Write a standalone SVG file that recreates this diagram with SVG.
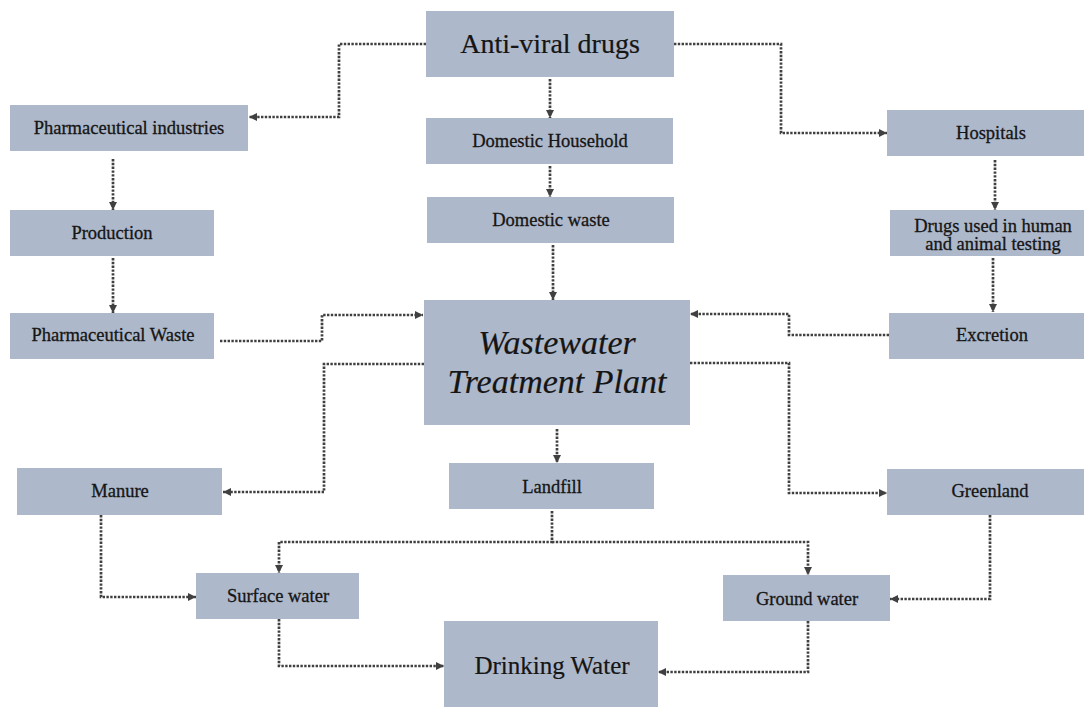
<svg xmlns="http://www.w3.org/2000/svg" width="1085" height="709" viewBox="0 0 1085 709">
<defs>
<style>
.box{fill:#adb8cb;}
.t{font-family:"Liberation Serif","Times New Roman",serif;font-size:18.5px;fill:#151515;stroke:#151515;stroke-width:0.3;text-anchor:middle;}
.big{font-size:28px;stroke-width:0.2;}
.mid{font-size:25px;stroke-width:0.2;}
.it{font-style:italic;font-size:34px;stroke-width:0.2;}
.c{fill:none;stroke:#404040;stroke-width:2.7;stroke-dasharray:2.4 1.4;marker-end:url(#ah);}
</style>
<marker id="ah" markerUnits="userSpaceOnUse" markerWidth="9" markerHeight="9" refX="8" refY="4" orient="auto">
<path d="M0,0 L8,4 L0,8 z" fill="#404040"/>
</marker>
</defs>
<rect width="1085" height="709" fill="#ffffff"/>
<g id="connectors">
<path class="c" d="M426,44 H339 V117 H249"/>
<path class="c" d="M674,44 H781 V133 H887"/>
<path class="c" d="M550,79 V118"/>
<path class="c" d="M550,166 V197"/>
<path class="c" d="M553,245 V300"/>
<path class="c" d="M113,159 V210"/>
<path class="c" d="M113,258 V313"/>
<path class="c" d="M220,341 H322 V315 H423"/>
<path class="c" d="M995,160 V210"/>
<path class="c" d="M993,258 V312"/>
<path class="c" d="M889,335 H789 V314 H690"/>
<path class="c" d="M424,364 H324 V492 H223"/>
<path class="c" d="M690,363 H789 V493 H887"/>
<path class="c" d="M557,429 V463"/>
<path class="c" d="M552,511 V542 H279 V573"/>
<path class="c" d="M552,542 H808 V575"/>
<path class="c" d="M101,515 V597 H196"/>
<path class="c" d="M279,619 V666 H444"/>
<path class="c" d="M990,515 V599 H890"/>
<path class="c" d="M808,621 V672 H658"/>
</g>
<g id="antiviral"><rect class="box" x="426" y="11" width="248" height="66"/><text class="t big" x="550" y="53">Anti-viral drugs</text></g>
<g id="pharma-industries"><rect class="box" x="10" y="105" width="238" height="46"/><text class="t" x="129" y="134">Pharmaceutical industries</text></g>
<g id="domestic-household"><rect class="box" x="426" y="118" width="247" height="46"/><text class="t" x="550" y="147">Domestic Household</text></g>
<g id="hospitals"><rect class="box" x="887" y="110" width="197" height="46"/><text class="t" x="991" y="139">Hospitals</text></g>
<g id="production"><rect class="box" x="10" y="210" width="204" height="46"/><text class="t" x="112" y="239">Production</text></g>
<g id="domestic-waste"><rect class="box" x="427" y="197" width="247" height="46"/><text class="t" x="551" y="226">Domestic waste</text></g>
<g id="drugs-used"><rect class="box" x="890" y="210" width="194" height="46"/><text class="t" x="993" y="232">Drugs used in human</text><text class="t" x="993" y="250">and animal testing</text></g>
<g id="pharma-waste"><rect class="box" x="10" y="313" width="204" height="46"/><text class="t" x="113" y="341">Pharmaceutical Waste</text></g>
<g id="wwtp"><rect class="box" x="424" y="300" width="266" height="125"/><text class="t it" x="557" y="354">Wastewater</text><text class="t it" x="557" y="393">Treatment Plant</text></g>
<g id="excretion"><rect class="box" x="889" y="313" width="195" height="46"/><text class="t" x="992" y="341">Excretion</text></g>
<g id="manure"><rect class="box" x="17" y="468" width="205" height="47"/><text class="t" x="120" y="497">Manure</text></g>
<g id="landfill"><rect class="box" x="449" y="463" width="205" height="46"/><text class="t" x="552" y="493">Landfill</text></g>
<g id="greenland"><rect class="box" x="887" y="469" width="197" height="46"/><text class="t" x="990" y="497">Greenland</text></g>
<g id="surface-water"><rect class="box" x="196" y="573" width="163" height="46"/><text class="t" x="278" y="602">Surface water</text></g>
<g id="ground-water"><rect class="box" x="723" y="575" width="167" height="46"/><text class="t" x="807" y="605">Ground water</text></g>
<g id="drinking-water"><rect class="box" x="444" y="621" width="214" height="86"/><text class="t mid" x="552" y="674">Drinking Water</text></g>
</svg>
